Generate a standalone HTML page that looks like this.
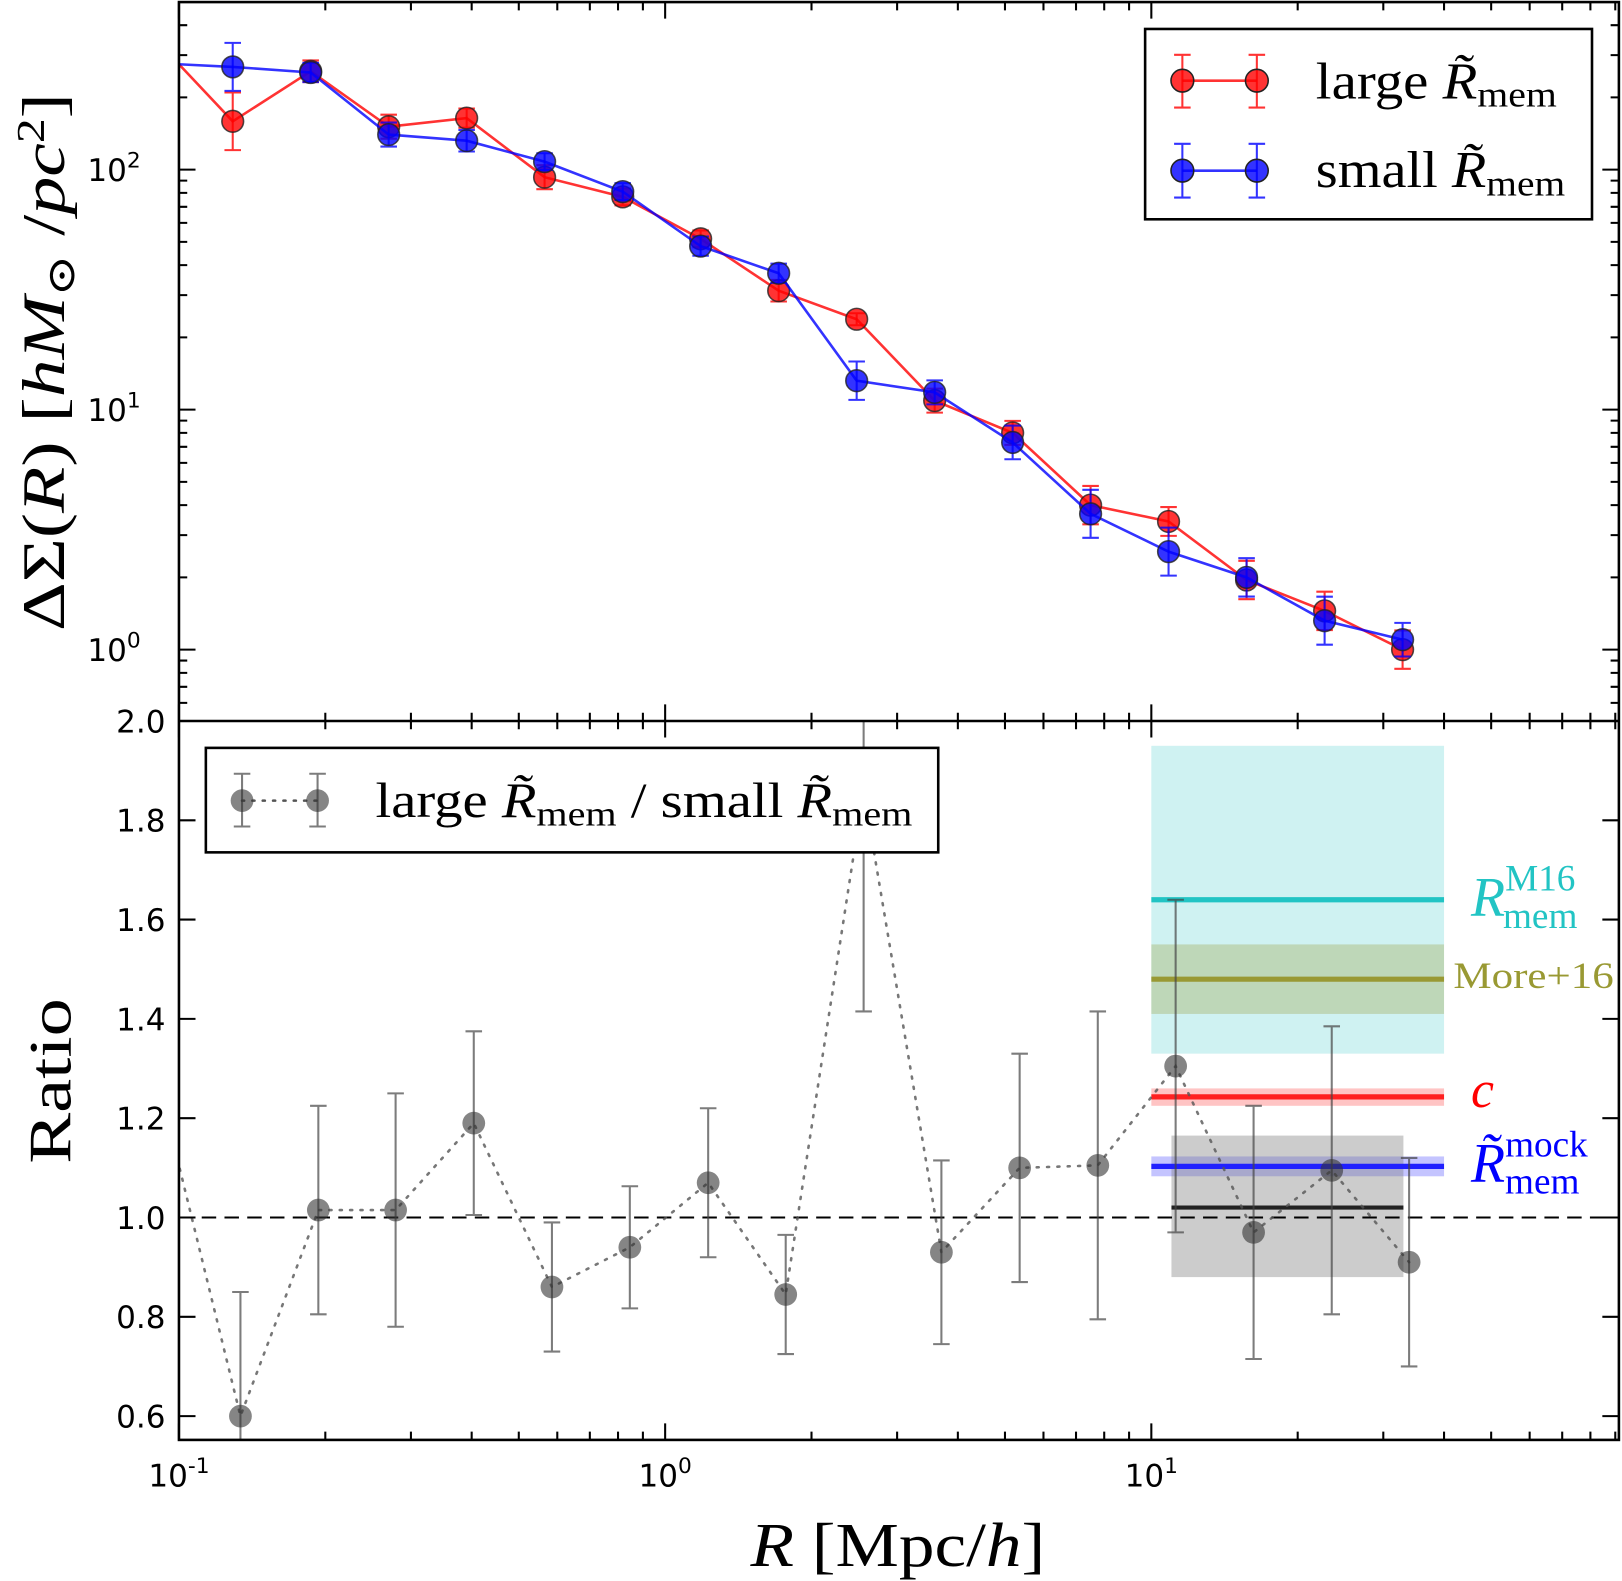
<!DOCTYPE html>
<html><head><meta charset="utf-8"><style>
html,body{margin:0;padding:0;background:#fff;}
svg{display:block;}
.serif{font-family:"Liberation Serif","DejaVu Serif",serif;}
.sans{font-family:"DejaVu Sans","Liberation Sans",sans-serif;}
</style></head><body>
<svg id="chart" width="1622" height="1581" viewBox="0 0 1568 1528.4" preserveAspectRatio="none" xmlns="http://www.w3.org/2000/svg">
<defs>
<clipPath id="clipTop"><rect x="173" y="2" width="1392" height="695"/></clipPath>
<clipPath id="clipBot"><rect x="173" y="697" width="1392" height="695"/></clipPath>
</defs>
<g id="topPanel"></g>
<g id="botPanel"></g>
<g id="axesGroup"></g>
</svg>
<script>
// ---- data ----
const radii = [0.0889,0.129,0.1866,0.270,0.3906,0.565,0.818,1.183,1.712,2.477,3.584,5.185,7.50,10.85,15.70,22.72,32.87];
const largeVals = [354,159,257,151,164,93,77,51.5,31.3,23.8,10.9,8.0,4.0,3.42,1.95,1.45,1.0];
const largeErr = [0,0.12,0.045,0.05,0.04,0.05,0.035,0.035,0.045,0.025,0.05,0.05,0.08,0.06,0.08,0.08,0.08];
const smallVals = [278,268,254,140,132,108,81,48,37,13.2,11.8,7.3,3.68,2.56,2.0,1.32,1.1];
const smallErr = [0,0.1,0.04,0.05,0.045,0.035,0.035,0.04,0.04,0.08,0.05,0.07,0.1,0.1,0.08,0.1,0.07];
const ratioX = [0.0925,0.1338,0.1935,0.279,0.404,0.585,0.846,1.226,1.77,2.56,3.70,5.36,7.76,11.22,16.23,23.5,33.9];
const ratioVals = [1.24,0.60,1.015,1.015,1.19,0.86,0.94,1.07,0.845,1.86,0.93,1.10,1.105,1.305,0.97,1.095,0.91];
const ratioErr = [0,0.25,0.21,0.235,0.185,0.13,0.123,0.15,0.12,0.445,0.185,0.23,0.31,0.335,0.255,0.29,0.21];
const bandNames = ["M16","More16","c","mock"];
const bandCenters = [1.64,1.48,1.243,1.103];
const bandLow = [1.33,1.41,1.225,1.083];
const bandHigh = [1.95,1.55,1.26,1.123];
const bandColors = ["#22c4c4","#999933","#ff2020","#2020ff"];
const bandFills = ["rgba(95,211,211,0.3)","rgba(153,153,51,0.3)","rgba(255,60,60,0.3)","rgba(60,60,255,0.3)"];
const xTickLabels = ["10","10","10"];
const xTickExp = ["-1","0","1"];
const yTopExp = ["0","1","2"];
const yBotTicks = [0.6,0.8,1.0,1.2,1.4,1.6,1.8,2.0];
const dataBlack = {center:1.02,low:0.88,high:1.165,x0:11,x1:33};

// ---- axes ----
const L=173,R=1565,T=2,M=697,B=1392;
const X = v => L + (Math.log10(v)+1)*470;
const YT = v => 164 + (2-Math.log10(v))*232;
const YB = v => 1177 - (v-1)*480;
const NS="http://www.w3.org/2000/svg";
function mk(parent,tag,attrs,text){const e=document.createElementNS(NS,tag);for(const k in attrs)e.setAttribute(k,attrs[k]);if(text!==undefined)e.textContent=text;parent.appendChild(e);return e;}
const topG=document.getElementById('topPanel'),botG=document.getElementById('botPanel'),axesG=document.getElementById('axesGroup');
const tc=mk(topG,'g',{'clip-path':'url(#clipTop)'});
const bc=mk(botG,'g',{'clip-path':'url(#clipBot)'});

function series(vals,errs,col,name){
  const g=mk(tc,'g',{});
  
  
  const pts=vals.map((v,i)=>X(radii[i])+','+YT(v)).join(' ');
  mk(g,'polyline',{points:pts,fill:'none',stroke:col,'stroke-width':2.5,'stroke-opacity':0.8});
  vals.forEach((v,i)=>{ if(i===0) return;
    const x=X(radii[i]);const y1=YT(v*Math.pow(10,errs[i])),y2=YT(v/Math.pow(10,errs[i]));
    const e=mk(g,'path',{d:`M${x},${y1}V${y2}M${x-8},${y1}h16M${x-8},${y2}h16`,stroke:col,'stroke-width':2,'stroke-opacity':0.8,fill:'none'});
    
    
    const c=mk(g,'circle',{cx:x,cy:YT(v),r:10.5,fill:col,'fill-opacity':0.8,stroke:'#222','stroke-width':1.5,'stroke-opacity':0.8});
    
    
  });
}
series(largeVals,largeErr,'#ff0000','large-rmem');
series(smallVals,smallErr,'#0000ff','small-rmem');

bandNames.forEach((n,i)=>{
  const r=mk(bc,'rect',{x:X(10),y:YB(bandHigh[i]),width:X(40)-X(10),height:YB(bandLow[i])-YB(bandHigh[i]),fill:bandFills[i]});
  
  
});
const gb=mk(bc,'rect',{x:X(dataBlack.x0),y:YB(dataBlack.high),width:X(dataBlack.x1)-X(dataBlack.x0),height:YB(dataBlack.low)-YB(dataBlack.high),fill:'rgba(128,128,128,0.4)'});


bandNames.forEach((n,i)=>{
  const l=mk(bc,'line',{x1:X(10),x2:X(40),y1:YB(bandCenters[i]),y2:YB(bandCenters[i]),stroke:bandColors[i],'stroke-width':5});
  
  
});
const bl=mk(bc,'line',{x1:X(dataBlack.x0),x2:X(dataBlack.x1),y1:YB(dataBlack.center),y2:YB(dataBlack.center),stroke:'#222','stroke-width':4});


const dl=mk(bc,'line',{x1:L,x2:R,y1:YB(1),y2:YB(1),stroke:'#000','stroke-width':2,'stroke-dasharray':'14,8'});



mk(bc,'polyline',{points:ratioVals.map((v,i)=>X(ratioX[i])+','+YB(v)).join(' '),fill:'none',stroke:'#555','stroke-width':2.5,'stroke-dasharray':'2,8','stroke-linecap':'round','stroke-opacity':0.8});
ratioVals.forEach((v,i)=>{ if(i===0) return;
  const x=X(ratioX[i]),y1=YB(v+ratioErr[i]),y2=YB(v-ratioErr[i]);
  const e=mk(bc,'path',{d:`M${x},${y1}V${y2}M${x-8},${y1}h16M${x-8},${y2}h16`,stroke:'#444','stroke-width':2,'stroke-opacity':0.7,fill:'none'});
  
  
  const c=mk(bc,'circle',{cx:x,cy:YB(v),r:11,fill:'#333','fill-opacity':0.6});
  
  
});

mk(axesG,'rect',{x:L,y:T,width:R-L,height:B-T,fill:'none',stroke:'#000','stroke-width':2.5});
mk(axesG,'line',{x1:L,x2:R,y1:M,y2:M,stroke:'#000','stroke-width':2.5});
let d='';
for(let e=-1;e<=1;e++){for(let k=1;k<10;k++){const v=k*Math.pow(10,e);const x=X(v);if(x>R)continue;const len=k===1?16:8;
  d+=`M${x},${T}v${len}M${x},${M}v${-len}M${x},${M}v${len}M${x},${B}v${-len}`;}}
for(let e=-1;e<=2;e++){for(let k=1;k<10;k++){const y=YT(k*Math.pow(10,e));if(y<T||y>M)continue;const len=k===1?16:8;
  d+=`M${L},${y}h${len}M${R},${y}h${-len}`;}}
yBotTicks.forEach(v=>{const y=YB(v);d+=`M${L},${y}h16M${R},${y}h-16`;});
mk(axesG,'path',{d:d,stroke:'#000','stroke-width':2,fill:'none'});

xTickLabels.forEach((t,i)=>{
  const x=X(Math.pow(10,i-1));
  const tx=mk(axesG,'text',{x:x,y:1437,'text-anchor':'middle','font-size':30,class:'sans'});
  
  
  mk(tx,'tspan',{},t);mk(tx,'tspan',{dy:-13,'font-size':21},xTickExp[i]);
});
yTopExp.forEach((t,i)=>{
  const y=YT(Math.pow(10,i));
  const tx=mk(axesG,'text',{x:136,y:y+11,'text-anchor':'end','font-size':30,class:'sans'});
  
  
  mk(tx,'tspan',{},'10');mk(tx,'tspan',{dy:-13,'font-size':21},t);
});
yBotTicks.forEach(v=>{
  const tx=mk(axesG,'text',{x:160,y:YB(v)+11,'text-anchor':'end','font-size':30,class:'sans'},v.toFixed(1));
  
  
});
</script>
<script>
(function(){
const ax=document.getElementById('axesGroup');
ax.insertAdjacentHTML('beforeend',`
<text class="serif" font-size="58" transform="translate(62,350) rotate(-90)" text-anchor="middle" textLength="520" lengthAdjust="spacingAndGlyphs">ΔΣ(<tspan font-style="italic">R</tspan>) [<tspan font-style="italic">hM</tspan><tspan font-size="38" dy="10">⊙</tspan><tspan dy="-10"> /</tspan><tspan font-style="italic">pc</tspan><tspan font-size="38" dy="-20">2</tspan><tspan dy="20">]</tspan></text>
<text class="serif" font-size="58" transform="translate(68,1045) rotate(-90)" text-anchor="middle" textLength="160" lengthAdjust="spacingAndGlyphs">Ratio</text>
<text class="serif" font-size="60" x="868" y="1514" text-anchor="middle" textLength="285" lengthAdjust="spacingAndGlyphs"><tspan font-style="italic">R</tspan> [Mpc/<tspan font-style="italic">h</tspan>]</text>
<g>
<rect x="1107" y="28" width="432" height="184" fill="#fff" stroke="#000" stroke-width="2.5"/>
<path d="M1143,78H1215" stroke="#f00" stroke-opacity="0.8" stroke-width="2.5"/>
<path d="M1143,53V104M1135,53h16M1135,104h16M1215,53V104M1207,53h16M1207,104h16" stroke="#f00" stroke-opacity="0.8" stroke-width="2"/>
<circle cx="1143" cy="78" r="11" fill="#f00" fill-opacity="0.8" stroke="#222" stroke-width="1.5"/><circle cx="1215" cy="78" r="11" fill="#f00" fill-opacity="0.8" stroke="#222" stroke-width="1.5"/>
<path d="M1143,165H1215" stroke="#00f" stroke-opacity="0.8" stroke-width="2.5"/>
<path d="M1143,139V191M1135,139h16M1135,191h16M1215,139V191M1207,139h16M1207,191h16" stroke="#00f" stroke-opacity="0.8" stroke-width="2"/>
<circle cx="1143" cy="165" r="11" fill="#00f" fill-opacity="0.8" stroke="#222" stroke-width="1.5"/><circle cx="1215" cy="165" r="11" fill="#00f" fill-opacity="0.8" stroke="#222" stroke-width="1.5"/>
<text class="serif" font-size="50" x="1272" y="95" textLength="233" lengthAdjust="spacingAndGlyphs">large <tspan font-style="italic">R̃</tspan><tspan font-size="35" dy="8">mem</tspan></text>
<text class="serif" font-size="50" x="1272" y="181" textLength="241" lengthAdjust="spacingAndGlyphs">small <tspan font-style="italic">R̃</tspan><tspan font-size="35" dy="8">mem</tspan></text>
</g>
<g>
<rect x="199" y="723" width="708" height="101" fill="#fff" stroke="#000" stroke-width="2.5"/>
<path d="M234,774H307" stroke="#555" stroke-width="2.5" stroke-dasharray="2,8" stroke-linecap="round"/>
<path d="M234,748V799M226,748h16M226,799h16M307,748V799M299,748h16M299,799h16" stroke="#444" stroke-opacity="0.7" stroke-width="2"/>
<circle cx="234" cy="774" r="11" fill="#333" fill-opacity="0.6"/><circle cx="307" cy="774" r="11" fill="#333" fill-opacity="0.6"/>
<text class="serif" font-size="48" x="363" y="790" textLength="519" lengthAdjust="spacingAndGlyphs">large <tspan font-style="italic">R̃</tspan><tspan font-size="34" dy="8">mem</tspan><tspan dy="-8"> / small </tspan><tspan font-style="italic">R̃</tspan><tspan font-size="34" dy="8">mem</tspan></text>
</g>
<text class="serif" font-size="54" fill="#22c4c4" x="1422" y="885"><tspan font-style="italic">R</tspan><tspan font-size="36" dy="-24">M16</tspan><tspan font-size="36" dx="-70" dy="36">mem</tspan></text>
<text class="serif" font-size="36" fill="#999933" x="1405" y="955" textLength="155" lengthAdjust="spacingAndGlyphs">More+16</text>
<text class="serif" font-size="50" font-style="italic" fill="#ff0000" x="1422" y="1070">c</text>
<text class="serif" font-size="54" fill="#0000ff" x="1422" y="1142"><tspan font-style="italic">R̃</tspan><tspan font-size="36" dy="-24">mock</tspan><tspan font-size="36" dx="-80" dy="36">mem</tspan></text>
`);
})();
</script>
</body></html>
